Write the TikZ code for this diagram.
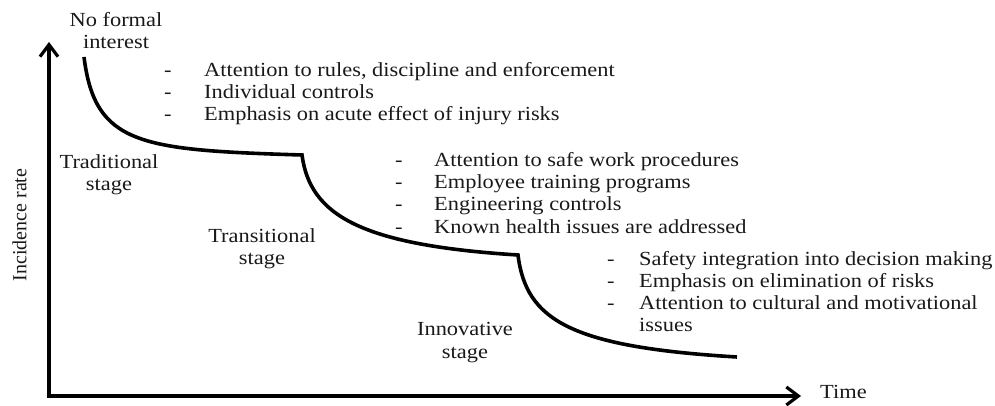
\documentclass[tikz,border=0pt]{standalone}
\usepackage{fontspec}
\setmainfont[FakeStretch=1.12]{Liberation Serif}
\newfontfamily\ylabelfont{Liberation Serif}
\usetikzlibrary{arrows.meta}
\begin{document}
\begin{tikzpicture}[x=1pt,y=-1pt,
  txt/.style={inner sep=0pt, anchor=base west, text=black!90, font=\fontsize{20}{22}\selectfont},
  ctr/.style={inner sep=0pt, anchor=base, text=black!90, font=\fontsize{20}{22}\selectfont},
  axisline/.style={line width=3.2pt, {Straight Barb[length=12pt,width=18pt]}-{Straight Barb[length=12pt,width=18pt]}},
  stepcurve/.style={line width=3.6pt}]
\useasboundingbox (0,0) rectangle (995,406);
% axes
\coordinate (O) at (49,396);
\coordinate (Ytip) at (49,42);
\coordinate (Xtip) at (801,396);
\draw[axisline] (Ytip) -- (O) -- (Xtip);
\node[inner sep=0pt, rotate=90, text=black!90, font=\ylabelfont\fontsize{20}{22}\selectfont] (ylab) at (19.5,225) {Incidence rate};
\node[txt] (xlab) at (820,398) {Time};
% curve
\coordinate (c0) at (84,57);
\coordinate (c1) at (302,155);
\coordinate (c2) at (518,255);
\coordinate (c3) at (737,357);
\draw[stepcurve] (c0) .. controls (95,145) and (140,150) .. (c1)
  .. controls (310,215) and (360,245) .. (c2)
  .. controls (526,320) and (570,347) .. (c3);
% stage labels
\node[ctr] (nf1) at (116,27) {No formal};
\node[ctr] (nf2) at (116,49) {interest};
\node[ctr] (tr1) at (109,168) {Traditional};
\node[ctr] (tr2) at (109,190) {stage};
\node[ctr] (ts1) at (262,242) {Transitional};
\node[ctr] (ts2) at (262,264) {stage};
\node[ctr] (in1) at (465,335) {Innovative};
\node[ctr] (in2) at (465,358) {stage};
% block 1
\node[txt] (a1d) at (164,77) {-};  \node[txt] (a1) at (204,77) {Attention to rules, discipline and enforcement};
\node[txt] (a2d) at (164,99) {-};  \node[txt] (a2) at (204,99) {Individual controls};
\node[txt] (a3d) at (164,121) {-}; \node[txt] (a3) at (204,121) {Emphasis on acute effect of injury risks};
% block 2
\node[txt] (b1d) at (395,167) {-}; \node[txt] (b1) at (434,167) {Attention to safe work procedures};
\node[txt] (b2d) at (395,189) {-}; \node[txt] (b2) at (434,189) {Employee training programs};
\node[txt] (b3d) at (395,211) {-}; \node[txt] (b3) at (434,211) {Engineering controls};
\node[txt] (b4d) at (395,233) {-}; \node[txt] (b4) at (434,233) {Known health issues are addressed};
% block 3
\node[txt] (d1d) at (607,265) {-}; \node[txt] (d1) at (639,265) {Safety integration into decision making};
\node[txt] (d2d) at (607,287) {-}; \node[txt] (d2) at (639,287) {Emphasis on elimination of risks};
\node[txt] (d3d) at (607,309) {-}; \node[txt] (d3) at (639,309) {Attention to cultural and motivational};
\node[txt] (d4) at (639,331) {issues};
\end{tikzpicture}
\end{document}
